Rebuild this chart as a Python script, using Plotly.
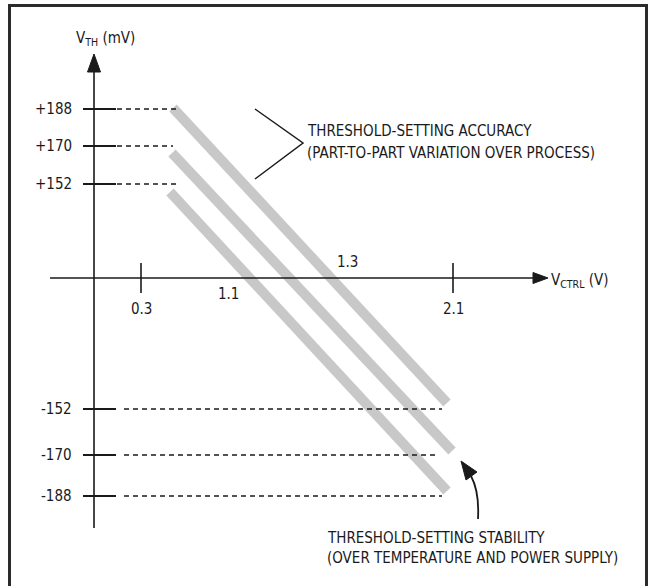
import plotly.graph_objects as go

# ---- content (schematic diagram) ----
y_tick_labels = ["+188", "+170", "+152", "-152", "-170", "-188"]
y_tick_levels = [109, 146, 184, 409, 455, 496]          # schematic level of each threshold
y_dash_end = [177, 173, 177, 442, 438, 442]              # where each dashed guide ends
x_tick_labels = ["0.3", "2.1"]
x_tick_levels = [141, 453]
x_free_labels = ["1.1", "1.3"]
x_free_pos = [(228, 294), (347, 262)]

band_start = [(173, 108), (172, 153), (170, 192)]
band_end = [(447, 403), (452, 451), (447, 491)]

y_title = "V<sub>TH</sub> (mV)"
x_title = "V<sub>CTRL</sub> (V)"
accuracy_text = ["THRESHOLD-SETTING ACCURACY", "(PART-TO-PART VARIATION OVER PROCESS)"]
stability_text = ["THRESHOLD-SETTING STABILITY", "(OVER TEMPERATURE AND POWER SUPPLY)"]

FONT = "Liberation Sans Narrow, DejaVu Sans Condensed, Arial Narrow, sans-serif"
INK = "#1a1a1a"
FS = 15

fig = go.Figure()

# gray bands
for (x0, y0), (x1, y1) in zip(band_start, band_end):
    fig.add_trace(go.Scatter(x=[x0, x1], y=[y0, y1], mode="lines",
                             line=dict(color="#c8c8c8", width=10),
                             hoverinfo="skip", showlegend=False))

shapes = []
# frame
shapes.append(dict(type="rect", x0=9.5, x1=646.5, y0=5.5, y1=592,
                   line=dict(color="#2b2b2b", width=3)))
# axes
shapes.append(dict(type="line", x0=94, x1=94, y0=70, y1=528, line=dict(color=INK, width=1.6)))
shapes.append(dict(type="line", x0=50, x1=535, y0=278, y1=278, line=dict(color=INK, width=1.6)))
shapes.append(dict(type="path", path="M 87.5,72 L 100.5,72 L 94,54 Z",
                   fillcolor=INK, line=dict(color=INK, width=1)))
shapes.append(dict(type="path", path="M 533,272.5 L 533,283.5 L 548,278 Z",
                   fillcolor=INK, line=dict(color=INK, width=1)))

# y ticks + dashed guides
for lvl, xe in zip(y_tick_levels, y_dash_end):
    shapes.append(dict(type="line", x0=83, x1=116, y0=lvl, y1=lvl, line=dict(color=INK, width=1.8)))
    xs = 117 if lvl < 278 else 124
    shapes.append(dict(type="line", x0=xs, x1=xe, y0=lvl, y1=lvl,
                       line=dict(color=INK, width=1.3, dash="5px,4px")))

# x ticks
for lvl in x_tick_levels:
    shapes.append(dict(type="line", x0=lvl, x1=lvl, y0=263, y1=293, line=dict(color=INK, width=1.6)))

# bracket
shapes.append(dict(type="path", path="M 255,109 L 303,143 L 255,179",
                   line=dict(color=INK, width=1.5)))
# curved arrow
shapes.append(dict(type="path", path="M 478,519 C 479,500 477,487 471,476",
                   line=dict(color=INK, width=1.8)))
shapes.append(dict(type="path", path="M 461,461 L 466,480 L 477,472 Z",
                   fillcolor=INK, line=dict(color=INK, width=1)))

ann = []
def txt(x, y, s, xa="center", ya="middle"):
    ann.append(dict(x=x, y=y, xref="x", yref="y", text=s, showarrow=False,
                    xanchor=xa, yanchor=ya, font=dict(family=FONT, size=FS, color=INK)))

for lab, lvl in zip(y_tick_labels, y_tick_levels):
    txt(74, lvl, lab, xa="right")
for lab, lvl in zip(x_tick_labels, x_tick_levels):
    txt(lvl, 309, lab)
for lab, (x, y) in zip(x_free_labels, x_free_pos):
    txt(x, y, lab)
txt(74, 38, y_title, xa="left")
txt(549, 280, x_title, xa="left")
txt(305, 131, accuracy_text[0], xa="left")
txt(305, 153, accuracy_text[1], xa="left")
txt(325, 538, stability_text[0], xa="left")
txt(325, 558, stability_text[1], xa="left")

fig.update_layout(
    width=650, height=586, margin=dict(l=0, r=0, t=0, b=0),
    paper_bgcolor="white", plot_bgcolor="white",
    xaxis=dict(range=[0, 650], visible=False, fixedrange=True),
    yaxis=dict(range=[586, 0], visible=False, fixedrange=True),
    shapes=shapes, annotations=ann, showlegend=False,
)
fig.write_html("out.html", config={"displayModeBar": False},
               post_script="document.body.style.margin='0';document.body.style.padding='0';document.body.style.overflow='hidden';")
